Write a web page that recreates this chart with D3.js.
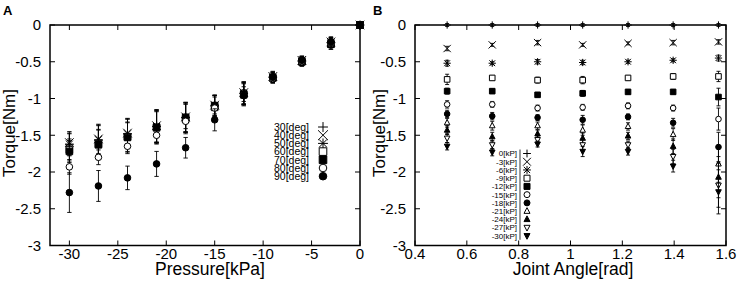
<!DOCTYPE html>
<html lang="en">
<head>
<meta charset="UTF-8">
<title>Torque vs. Pressure and Joint Angle</title>
<script src="https://d3js.org/d3.v7.min.js"></script>
<style>
    body { margin: 0; background: #fff; }
    svg { display: block; font-family: "Liberation Sans", Arial, sans-serif; }
</style>
</head>
<body>
<div id="chart"></div>
<script>
// ---- panel A: torque vs. pressure, one series per joint angle ----
var pressures = [-30, -27, -24, -21, -18, -15, -12, -9, -6, -3, 0];
var angleLabels = ["30[deg]", "40[deg]", "50[deg]", "60[deg]", "70[deg]", "80[deg]", "90[deg]"];
var deg30 = [-1.63, -1.57, -1.48, -1.38, -1.26, -1.10, -0.93, -0.71, -0.49, -0.24, 0];
var deg40 = [-1.60, -1.55, -1.47, -1.37, -1.25, -1.09, -0.92, -0.70, -0.48, -0.23, 0];
var deg50 = [-1.62, -1.56, -1.48, -1.38, -1.26, -1.10, -0.93, -0.71, -0.49, -0.24, 0];
var deg60 = [-1.70, -1.62, -1.52, -1.40, -1.28, -1.12, -0.95, -0.72, -0.50, -0.26, 0];
var deg70 = [-1.72, -1.63, -1.53, -1.39, -1.26, -1.10, -0.94, -0.72, -0.50, -0.26, 0];
var deg80 = [-1.93, -1.80, -1.65, -1.50, -1.31, -1.13, -0.96, -0.73, -0.50, -0.25, 0];
var deg90 = [-2.28, -2.19, -2.08, -1.89, -1.67, -1.29, -0.96, -0.71, -0.48, -0.23, 0];
var errTop = [0.15, 0.20, 0.20, 0.22, 0.20, 0.14, 0.15, 0.07, 0.06, 0.07, 0];
var err80 = [0.10, 0.10, 0.10, 0.10, 0.10, 0.08, 0.08, 0.05, 0.05, 0.05, 0];
var err90 = [0.27, 0.21, 0.16, 0.17, 0.14, 0.15, 0.12, 0.05, 0.05, 0.05, 0];

// ---- panel B: torque vs. joint angle, one series per pressure ----
var anglesRad = [0.524, 0.698, 0.873, 1.047, 1.222, 1.396, 1.571];
var pressureLabels = ["0[kP]", "-3[kP]", "-6[kP]", "-9[kP]", "-12[kP]", "-15[kP]",
                      "-18[kP]", "-21[kP]", "-24[kP]", "-27[kP]", "-30[kP]"];
var kp0  = [0, 0, 0, 0, 0, 0, 0];
var kp3  = [-0.32, -0.27, -0.24, -0.27, -0.25, -0.24, -0.23];
var kp6  = [-0.52, -0.52, -0.50, -0.51, -0.50, -0.48, -0.45];
var kp9  = [-0.74, -0.72, -0.75, -0.75, -0.72, -0.70, -0.70];
var kp12 = [-0.90, -0.90, -0.95, -0.93, -0.91, -0.91, -0.98];
var kp15 = [-1.08, -1.08, -1.13, -1.12, -1.10, -1.13, -1.28];
var kp18 = [-1.21, -1.24, -1.26, -1.29, -1.25, -1.33, -1.66];
var kp21 = [-1.33, -1.37, -1.37, -1.43, -1.38, -1.49, -1.89];
var kp24 = [-1.43, -1.52, -1.48, -1.54, -1.51, -1.65, -2.07];
var kp27 = [-1.54, -1.63, -1.56, -1.63, -1.63, -1.79, -2.18];
var kp30 = [-1.65, -1.73, -1.62, -1.72, -1.72, -1.92, -2.27];
var ekp0  = [0.02, 0.02, 0.02, 0.02, 0.02, 0.02, 0.02];
var ekp3  = [0.03, 0.02, 0.03, 0.02, 0.02, 0.03, 0.03];
var ekp6  = [0.04, 0.02, 0.03, 0.03, 0.02, 0.02, 0.04];
var ekp9  = [0.07, 0.03, 0.04, 0.05, 0.03, 0.04, 0.07];
var ekp12 = [0.04, 0.03, 0.03, 0.04, 0.03, 0.03, 0.12];
var ekp15 = [0.05, 0.04, 0.04, 0.04, 0.04, 0.04, 0.15];
var ekp18 = [0.05, 0.05, 0.04, 0.06, 0.04, 0.06, 0.20];
var ekp21 = [0.06, 0.06, 0.05, 0.07, 0.05, 0.08, 0.25];
var ekp24 = [0.06, 0.06, 0.05, 0.07, 0.05, 0.10, 0.28];
var ekp27 = [0.06, 0.06, 0.05, 0.08, 0.05, 0.10, 0.30];
var ekp30 = [0.05, 0.05, 0.04, 0.07, 0.05, 0.08, 0.30];

var yTicks = [0, -0.5, -1, -1.5, -2, -2.5, -3];
var xTicksA = [-30, -25, -20, -15, -10, -5, 0];
var xTicksB = [0.4, 0.6, 0.8, 1, 1.2, 1.4, 1.6];

var seriesA = [deg30, deg40, deg50, deg60, deg70, deg80, deg90];
var errorsA = [errTop, errTop, errTop, errTop, errTop, err80, err90];
var seriesB = [kp0, kp3, kp6, kp9, kp12, kp15, kp18, kp21, kp24, kp27, kp30];
var errorsB = [ekp0, ekp3, ekp6, ekp9, ekp12, ekp15, ekp18, ekp21, ekp24, ekp27, ekp30];

var markTypes = ["plus", "times", "star", "square", "squareF", "circle", "circleF",
                 "tri", "triF", "inv", "invF"];

// gnuplot-ish point shapes
function markPath(type, r) {
    var p = d3.path();
    var c = r * 1.3;
    if (type == "plus" || type == "star") {
        p.moveTo(-c, 0); p.lineTo(c, 0); p.moveTo(0, -c); p.lineTo(0, c);
    }
    if (type == "times" || type == "star") {
        var k = type == "star" ? c * 0.8 : c;
        p.moveTo(-k, -k); p.lineTo(k, k); p.moveTo(-k, k); p.lineTo(k, -k);
    }
    if (type.indexOf("square") == 0) p.rect(-r, -r, 2 * r, 2 * r);
    if (type.indexOf("circle") == 0) { p.moveTo(r, 0); p.arc(0, 0, r, 0, 2 * Math.PI); }
    if (type.indexOf("tri") == 0) {
        p.moveTo(0, -r * 1.15); p.lineTo(r, r * 0.75); p.lineTo(-r, r * 0.75); p.closePath();
    }
    if (type.indexOf("inv") == 0) {
        p.moveTo(0, r * 1.15); p.lineTo(r, -r * 0.75); p.lineTo(-r, -r * 0.75); p.closePath();
    }
    return p.toString();
}
function markFill(type) {
    if (type.slice(-1) == "F") return "#000";
    if (type == "plus" || type == "times" || type == "star") return "none";
    return "#fff";
}

var width = 743, height = 283;
var svg = d3.select("#chart").append("svg")
    .attr("width", width)
    .attr("height", height);

var y = d3.scaleLinear().domain([-3, 0]).range([245.5, 25]);

function drawPanel(opt) {
    var g = svg.append("g");
    var x = opt.x;
    var left = x.range()[0], right = x.range()[1];
    var top = 25, bottom = 245.5;

    // ticks inside, mirrored
    opt.xTicks.forEach(function(t) {
        g.append("line").attr("x1", x(t)).attr("x2", x(t)).attr("y1", bottom).attr("y2", bottom - 5)
            .attr("stroke", "#000");
        g.append("line").attr("x1", x(t)).attr("x2", x(t)).attr("y1", top).attr("y2", top + 5)
            .attr("stroke", "#000");
        g.append("text").attr("x", x(t)).attr("y", 259).attr("text-anchor", "middle")
            .attr("font-size", 15).text(t);
    });
    yTicks.forEach(function(t) {
        g.append("line").attr("x1", left).attr("x2", left + 5).attr("y1", y(t)).attr("y2", y(t))
            .attr("stroke", "#000");
        g.append("line").attr("x1", right).attr("x2", right - 5).attr("y1", y(t)).attr("y2", y(t))
            .attr("stroke", "#000");
        g.append("text").attr("x", left - 9).attr("y", y(t)).attr("dy", "0.36em")
            .attr("text-anchor", "end").attr("font-size", 15).text(t);
    });

    // data: error bars then marks
    opt.series.forEach(function(vals, si) {
        var type = markTypes[si];
        var errs = opt.errors[si];
        var sg = g.append("g");
        vals.forEach(function(v, i) {
            var px = x(opt.xs[i]);
            var e = errs[i];
            if (e > 0) {
                sg.append("path")
                    .attr("d", "M" + px + "," + y(v + e) + "V" + y(v - e) +
                        "M" + (px - opt.cap) + "," + y(v + e) + "H" + (px + opt.cap) +
                        "M" + (px - opt.cap) + "," + y(v - e) + "H" + (px + opt.cap))
                    .attr("stroke", "#000").attr("stroke-width", 0.9).attr("fill", "none");
            }
            sg.append("path")
                .attr("transform", "translate(" + px + "," + y(v) + ")")
                .attr("d", markPath(type, opt.r))
                .attr("fill", markFill(type))
                .attr("stroke", "#000").attr("stroke-width", 1);
        });
    });

    // frame
    g.append("rect").attr("x", left).attr("y", top)
        .attr("width", right - left).attr("height", bottom - top)
        .attr("fill", "none").attr("stroke", "#000").attr("stroke-width", 1.5);

    // axis titles
    g.append("text").attr("x", opt.titleX).attr("y", 275).attr("text-anchor", "middle")
        .attr("font-size", 17.5).text(opt.xTitle);
    g.append("text").attr("transform", "translate(" + (opt.offset + 15) + ",133) rotate(-90)")
        .attr("text-anchor", "middle").attr("font-size", 17).text("Torque[Nm]");
    g.append("text").attr("x", opt.offset + 3).attr("y", 15)
        .attr("font-size", 13).attr("font-weight", "bold").text(opt.letter);

    // legend
    opt.labels.forEach(function(lab, i) {
        var ly = opt.legY + i * opt.legStep;
        g.append("text").attr("x", opt.legX).attr("y", ly).attr("dy", "0.36em")
            .attr("text-anchor", "end").attr("font-size", opt.legFont).text(lab);
        g.append("path")
            .attr("transform", "translate(" + opt.legMark + "," + ly + ")")
            .attr("d", markPath(markTypes[i], opt.legR))
            .attr("fill", markFill(markTypes[i]))
            .attr("stroke", "#000").attr("stroke-width", 1);
    });
    if (opt.legLine) {
        g.append("line").attr("x1", opt.legLine).attr("x2", opt.legLine)
            .attr("y1", opt.legY - 4).attr("y2", opt.legY + (opt.labels.length - 1) * opt.legStep + 4)
            .attr("stroke", "#000").attr("stroke-width", 0.8);
    }
}

drawPanel({
    letter: "A", offset: 0,
    x: d3.scaleLinear().domain([-32, 0]).range([50, 360]),
    xTicks: xTicksA, xs: pressures,
    series: seriesA, errors: errorsA,
    r: 3.3, cap: 2.2,
    xTitle: "Pressure[kPa]", titleX: 210,
    labels: angleLabels, legX: 309, legMark: 323, legY: 127, legStep: 8.2, legFont: 10.5, legR: 3.8
});

drawPanel({
    letter: "B", offset: 370,
    x: d3.scaleLinear().domain([0.4, 1.6]).range([415, 726]),
    xTicks: xTicksB, xs: anglesRad,
    series: seriesB, errors: errorsB,
    r: 2.8, cap: 2,
    xTitle: "Joint Angle[rad]", titleX: 573,
    labels: pressureLabels, legX: 517, legMark: 527, legY: 153.5, legStep: 8.23, legFont: 8, legR: 3,
    legLine: 520
});
</script>
</body>
</html>
